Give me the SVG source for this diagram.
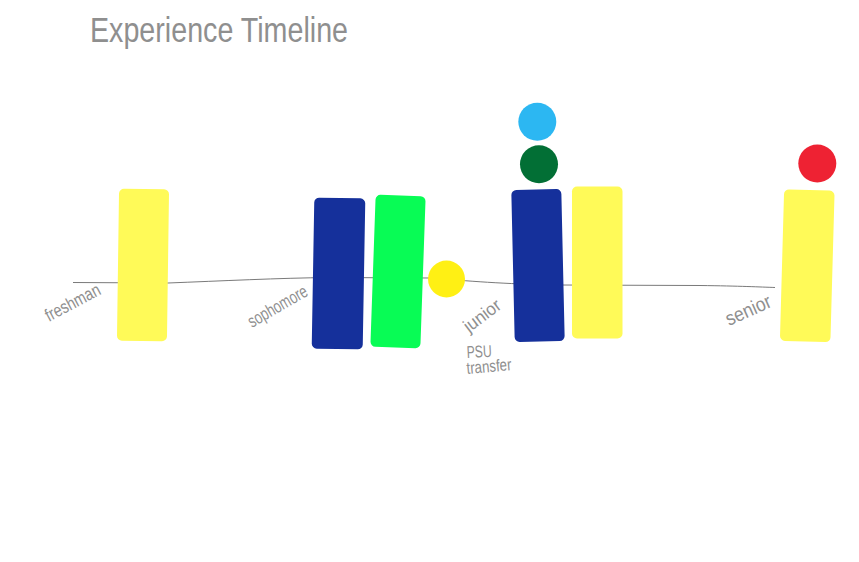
<svg xmlns="http://www.w3.org/2000/svg" width="859" height="562" viewBox="0 0 859 562">
<style>
.hand{font-family:"Liberation Sans","DejaVu Sans",sans-serif;fill:#8f8f8f;}
.bar{stroke:none;}
.yellow{fill:#FFFA58;}
.navy{fill:#15309B;}
.green{fill:#08FC55;}
</style>
<rect x="0" y="0" width="859" height="562" fill="#ffffff"/>
<text class="hand" x="90" y="42" font-size="35" textLength="258" lengthAdjust="spacingAndGlyphs" fill="#9a9a9a">Experience  Timeline</text>
<g id="connectors">
<path d="M73,282.5 L168,283 C220,281 280,278 330,277.5 L430,278 C470,281 500,284 560,285 L700,285.5 C740,286 760,287 775,287.5" fill="none" stroke="#7a7a7a" stroke-width="1"/>
</g>
<g id="freshman-bar"><rect class="bar yellow" x="118" y="189" width="50" height="152" rx="5" transform="rotate(0.8 143 265)"/></g>
<g id="sophomore-blue"><rect class="bar navy" x="313" y="198" width="51" height="151" rx="5" transform="rotate(1 338.5 273.5)"/></g>
<g id="sophomore-green"><rect class="bar green" x="373" y="195.5" width="50" height="152" rx="5" transform="rotate(2 398 271.5)"/></g>
<g id="yellow-dot"><circle cx="446.5" cy="279" r="18.5" fill="#FFF014"/></g>
<g id="junior-blue"><rect class="bar navy" x="513" y="189.5" width="50" height="152" rx="5" transform="rotate(-1.3 538 265.5)"/></g>
<g id="junior-yellow"><rect class="bar yellow" x="572" y="186.5" width="50.5" height="152" rx="5"/></g>
<g id="lightblue-dot"><circle cx="537.3" cy="121.7" r="19" fill="#2CB7F2"/></g>
<g id="darkgreen-dot"><circle cx="539" cy="164.3" r="19" fill="#026F35"/></g>
<g id="senior-bar"><rect class="bar yellow" x="782" y="190" width="50.5" height="151.5" rx="5" transform="rotate(1.6 807 266)"/></g>
<g id="red-dot"><circle cx="817.3" cy="163.5" r="19" fill="#EE2233"/></g>
<g id="labels">
<text class="hand" font-size="18" textLength="60" lengthAdjust="spacingAndGlyphs" transform="translate(49 322) rotate(-28)">freshman</text>
<text class="hand" font-size="18" textLength="66" lengthAdjust="spacingAndGlyphs" transform="translate(252 328) rotate(-30)">sophomore</text>
<text class="hand" font-size="18" textLength="42" lengthAdjust="spacingAndGlyphs" transform="translate(469 333) rotate(-37)">junior</text>
<text class="hand" font-size="17" textLength="25" lengthAdjust="spacingAndGlyphs" transform="translate(467 358) rotate(-3)">PSU</text>
<text class="hand" font-size="17" textLength="45" lengthAdjust="spacingAndGlyphs" transform="translate(467 374) rotate(-5)">transfer</text>
<text class="hand" font-size="20" textLength="48" lengthAdjust="spacingAndGlyphs" transform="translate(729 326) rotate(-24)">senior</text>
</g>
</svg>
